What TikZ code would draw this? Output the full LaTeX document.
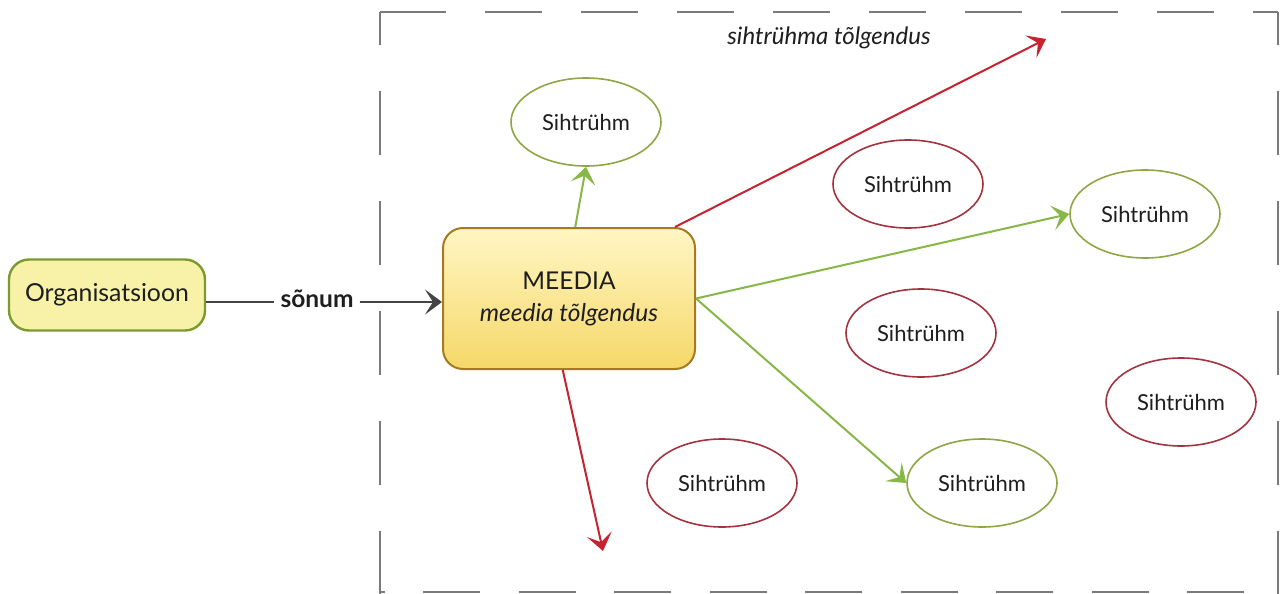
\documentclass[tikz,border=0pt]{standalone}
\usepackage{fontspec}
\setmainfont{Lato}
\usetikzlibrary{shapes.geometric,arrows.meta}

\definecolor{txt}{HTML}{1E1E1E}
\definecolor{framegray}{HTML}{7A7A7A}
\definecolor{orgfill}{HTML}{F8F2A8}
\definecolor{orgdraw}{HTML}{7C9B2E}
\definecolor{mtop}{HTML}{FFF6C4}
\definecolor{mbottom}{HTML}{F5D868}
\definecolor{mdraw}{HTML}{A67A20}
\definecolor{egreen}{HTML}{8EA645}
\definecolor{ered}{HTML}{A3343F}
\definecolor{agreen}{HTML}{86B747}
\definecolor{ared}{HTML}{C4232F}
\definecolor{agray}{HTML}{444444}

\begin{document}
\begin{tikzpicture}[x=1pt,y=-1pt,
  frame/.style={draw=framegray, line width=2pt},
  grp/.style={ellipse, draw, line width=1.6pt, minimum width=150pt,
    minimum height=88pt, inner sep=0pt, text=txt,
    font=\fontsize{22}{26}\selectfont},
  grpgreen/.style={grp, draw=egreen},
  grpred/.style={grp, draw=ered},
  link/.style={line width=2pt, -{Stealth[length=17pt,width=25pt,inset=8pt]}},
  greenlink/.style={link, draw=agreen, fill=agreen},
  redlink/.style={link, draw=ared, fill=ared}]

\useasboundingbox[fill=white] (0,0) rectangle (1280,594);

% dashed frame around the audience area
\draw[frame, dash pattern=on 57pt off 39pt, dash phase=87pt] (380,12) -- (1278,12);
\draw[frame] (380,12) -- (391,12);
\draw[frame, dash pattern=on 64pt off 46pt, dash phase=31pt] (380,12) -- (380,594);
\draw[frame, dash pattern=on 64pt off 46pt, dash phase=31pt] (1278,12) -- (1278,594);
\draw[frame, dash pattern=on 57pt off 38.5pt, dash phase=52.5pt] (380,592) -- (1278,592);

\node[text=txt, font=\fontsize{24}{28}\selectfont\itshape] (frametitle) at (829,38) {sihtrühma tõlgendus};

% sender and media
\node[draw=orgdraw, line width=2.4pt, fill=orgfill, rounded corners=20pt,
  minimum width=196pt, minimum height=71pt, inner sep=0pt, text=txt,
  font=\fontsize{24.8}{28}\selectfont] (org) at (107,295) {Organisatsioon};

\node[draw=mdraw, line width=2pt, top color=mtop, bottom color=mbottom,
  rounded corners=20pt, minimum width=252pt, minimum height=141pt,
  inner sep=0pt, text=txt, align=center,
  font=\fontsize{24.5}{32}\selectfont] (meedia) at (569,298.5)
  {MEEDIA\\\itshape meedia tõlgendus};

\node[text=txt, inner xsep=6pt, inner ysep=2pt,
  font=\fontsize{24.5}{28}\selectfont\bfseries] (snm) at (317,299) {sõnum};

% audience groups
\node[grpgreen] (g1) at (586,122) {Sihtrühm};
\node[grpred]   (g2) at (908,184) {Sihtrühm};
\node[grpgreen] (g3) at (1145,214) {Sihtrühm};
\node[grpred]   (g4) at (921,333) {Sihtrühm};
\node[grpred]   (g5) at (1181,402) {Sihtrühm};
\node[grpred]   (g6) at (722,483) {Sihtrühm};
\node[grpgreen] (g7) at (982,483) {Sihtrühm};

% free ends of the interpretations that miss every group
\coordinate (missup) at (1046,39);
\coordinate (missdown) at (603,551);

% message flow
\draw[agray, line width=2pt] (org.east |- 0,302) -- (snm.west |- 0,302);
\draw[link, draw=agray, fill=agray] (snm.east |- 0,302) -- (meedia.west |- 0,302);

\draw[greenlink] (meedia.85) -- (g1.south);
\draw[redlink] (meedia.34.4) -- (missup);
\draw[greenlink] (meedia.east) -- (g3.west);
\draw[greenlink] (meedia.east) -- (g7.west);
\draw[redlink] (meedia.-95) -- (missdown);

\end{tikzpicture}
\end{document}
